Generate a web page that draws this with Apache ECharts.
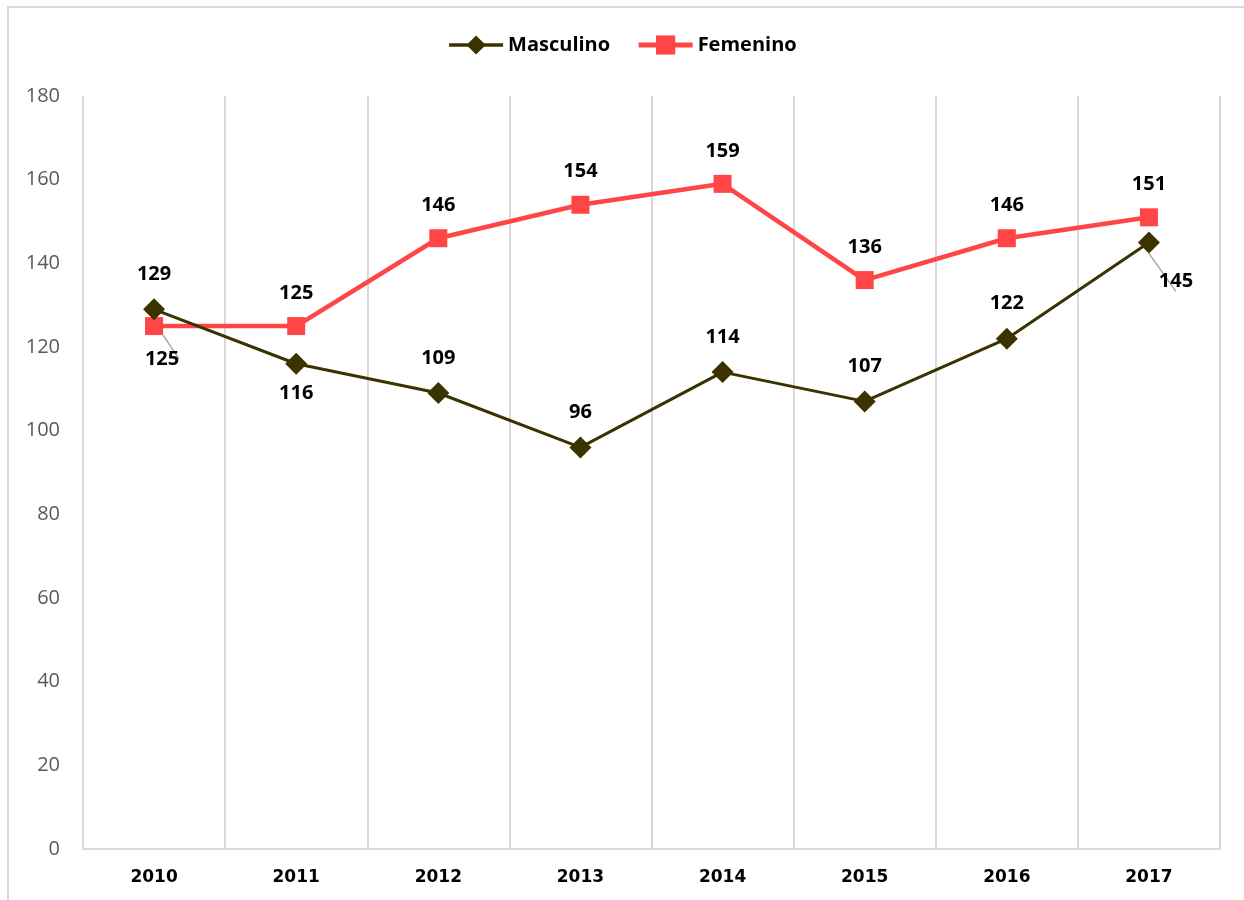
<!DOCTYPE html>
<html>
<head>
<meta charset="utf-8">
<script src="https://cdn.jsdelivr.net/npm/echarts@6/dist/echarts.min.js"></script>
<style>
html,body{margin:0;padding:0;background:#fff;overflow:hidden;}
#frame{position:absolute;left:7px;top:6px;width:1300px;height:1000px;border-left:2px solid #d9d9d9;border-top:2px solid #d9d9d9;box-sizing:border-box;}
#chart{position:absolute;left:0;top:0;width:1244px;height:900px;}
</style>
</head>
<body>
<div id="frame"></div>
<div id="chart"></div>
<script>
const years = ['2010','2011','2012','2013','2014','2015','2016','2017'];
const masculino = [129,116,109,96,114,107,122,145];
const femenino = [125,125,146,154,159,136,146,151];
const yTicks = [0,20,40,60,80,100,120,140,160,180];

const labelFont = {fontFamily:'"Open Sans", sans-serif', fontWeight:'bold', fontSize:20, color:'#000'};

const mascBelow = {1:[0,30], 7:[27,39]};
const femBelow = {0:[8,33]};

function buildData(vals, below, leaderIdx) {
  return vals.map((v,i) => {
    const item = {value:v};
    if (below[i]) {
      item.label = {position:'inside', offset:below[i]};
      if (i === leaderIdx) {
        item.labelLine = {show:true, lineStyle:{color:'#a6a6a6', width:1.5}};
      }
    }
    return item;
  });
}

const chart = echarts.init(document.getElementById('chart'), null, {renderer:'canvas'});
chart.setOption({
  animation:false,
  legend:{
    top:30, left:'center', itemGap:26, itemWidth:54, itemHeight:24,
    textStyle:{fontFamily:'"Open Sans", sans-serif', fontWeight:'bold', fontSize:20, color:'#000'},
    data:[
      {name:'Masculino', lineStyle:{width:3.5}},
      {name:'Femenino', lineStyle:{width:5}}
    ]
  },
  grid:{left:83, right:24, top:96, bottom:51, containLabel:false},
  xAxis:{
    type:'category', data:years, boundaryGap:true,
    axisLine:{show:true, lineStyle:{color:'#d9d9d9', width:2}},
    axisTick:{show:false},
    splitLine:{show:true, lineStyle:{color:'#d9d9d9', width:2}},
    axisLabel:{margin:20, fontFamily:'"DejaVu Sans", sans-serif', fontWeight:'bold', fontSize:17, color:'#000'}
  },
  yAxis:{
    type:'value', min:0, max:180, interval:20,
    axisLine:{show:false}, axisTick:{show:false},
    splitLine:{show:false},
    axisLabel:{margin:23, fontFamily:'"Open Sans", sans-serif', fontSize:20, color:'#595959'}
  },
  series:[
    {
      name:'Masculino', type:'line', data:buildData(masculino, mascBelow, 7),
      symbol:'diamond', symbolSize:22,
      lineStyle:{color:'#3a3300', width:3},
      itemStyle:{color:'#3a3300'},
      label:{show:true, position:'top', distance:14, ...labelFont},
      z:3
    },
    {
      name:'Femenino', type:'line', data:buildData(femenino, femBelow, 0),
      symbol:'rect', symbolSize:18,
      lineStyle:{color:'#ff4545', width:4.5},
      itemStyle:{color:'#ff4545'},
      label:{show:true, position:'top', distance:14, ...labelFont},
      z:2
    }
  ]
});
</script>
</body>
</html>
